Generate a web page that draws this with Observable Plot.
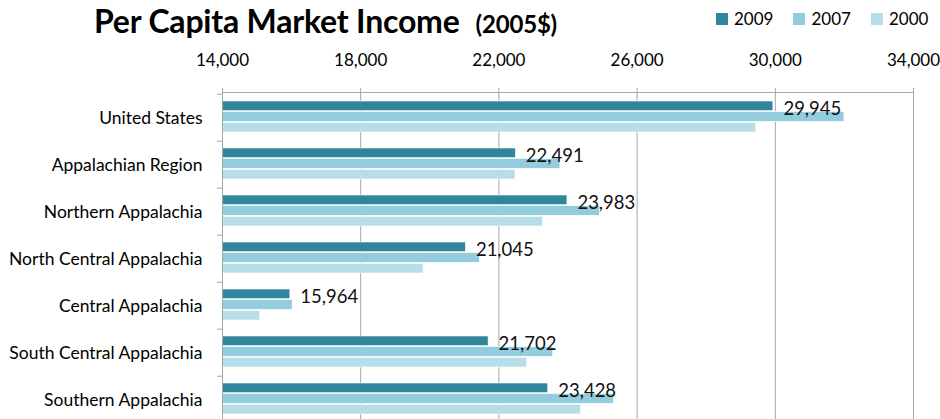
<!DOCTYPE html>
<html><head><meta charset="utf-8">
<script src="https://cdn.jsdelivr.net/npm/d3@7"></script>
<script src="https://cdn.jsdelivr.net/npm/@observablehq/plot@0.6"></script>
<style>
html,body{margin:0;padding:0;background:#fff;overflow:hidden;width:940px;height:419px;}
body{font-family:Lato,"Open Sans",sans-serif;color:#000;}
#head{position:relative;height:40px;}
#title{position:absolute;left:94px;top:1px;font-weight:bold;font-size:32px;white-space:nowrap;letter-spacing:-0.2px;}
#title span{font-size:24px;margin-left:16px;}
#legend{position:absolute;left:716px;top:8px;display:flex;font-size:17px;}
#legend .it{display:flex;align-items:center;margin-right:20px;}
#legend .sw{width:12px;height:12px;margin-right:6px;}
</style></head>
<body>
<div id="head"><div id="title">Per Capita Market Income<span>(2005$)</span></div><div id="legend"></div></div>
<div id="chart"></div>
<script>
const categories = ["United States","Appalachian Region","Northern Appalachia","North Central Appalachia","Central Appalachia","South Central Appalachia","Southern Appalachia"];
const years = ["2009","2007","2000"];
const v2009 = [29945, 22491, 23983, 21045, 15964, 21702, 23428];
const v2007 = [32000, 23780, 24920, 21450, 16030, 23570, 25330];
const v2000 = [29450, 22480, 23280, 19820, 15090, 22820, 24380];
const xTicks = [14000, 18000, 22000, 26000, 30000, 34000];
const colors = ["#31859c", "#93cddd", "#b7dee8"];
const baseline = 14000;

const series = [v2009, v2007, v2000];
const rows = series.map((vals, j) => categories.map((c, i) => ({category: c, year: years[j], value: vals[i]})));
const insets = [[7, 30.3], [17.6, 19.7], [28.3, 9]];

const fmt = d3.format(",");
const chart = Plot.plot({
  width: 940, height: 395,
  marginTop: 52, marginLeft: 222, marginRight: 27, marginBottom: 10,
  style: {fontFamily: "Lato, 'Open Sans', sans-serif", fontSize: "15px", color: "#000", background: "#fff", overflow: "visible"},
  x: {domain: [14000, 34000], label: null},
  y: {domain: categories, padding: 0, label: null},
  marks: [
    Plot.gridX(xTicks, {stroke: "#a6a6a6", strokeOpacity: 1}),
    ...rows.map((r, j) => Plot.barX(r, {x1: baseline, x2: "value", y: "category", fill: colors[j], stroke: "#fff", strokeWidth: 0.6, insetTop: insets[j][0], insetBottom: insets[j][1]})),
    Plot.frame({stroke: "#a6a6a6"}),
    Plot.axisX({anchor: "top", ticks: xTicks, tickFormat: fmt, tickSize: 5, tickPadding: 22, stroke: "#a6a6a6", fill: "#000", fontSize: 17, label: null}),
    Plot.axisY({anchor: "left", tickSize: 0, tickPadding: 20, fontSize: 17.5, fill: "#000", label: null}),
    Plot.axisY({anchor: "left", tickSize: 5, tickFormat: () => "", stroke: "#a6a6a6", dy: -47.57/2, label: null}),
    Plot.text(rows[0], {x: "value", y: "category", text: d => fmt(d.value), dx: 10, dy: -8.5, textAnchor: "start", fontSize: 18.5, fill: "#111"})
  ]
});
document.getElementById("chart").appendChild(chart);

const lg = document.getElementById("legend");
years.forEach((y, j) => {
  const it = document.createElement("div"); it.className = "it";
  const sw = document.createElement("div"); sw.className = "sw"; sw.style.background = colors[j];
  const t = document.createElement("span"); t.textContent = y;
  it.appendChild(sw); it.appendChild(t); lg.appendChild(it);
});
</script>
</body></html>
